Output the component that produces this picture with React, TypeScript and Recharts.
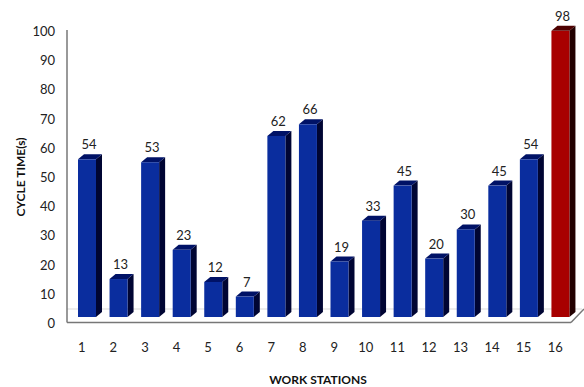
import React from 'react';
import { BarChart, Bar, XAxis, YAxis, Cell, LabelList, Customized } from 'recharts';

// values
const stations = ['1', '2', '3', '4', '5', '6', '7', '8', '9', '10', '11', '12', '13', '14', '15', '16'];
const cycleTimes = [54, 13, 53, 23, 12, 7, 62, 66, 19, 33, 45, 20, 30, 45, 54, 98];
const yTicks = [0, 10, 20, 30, 40, 50, 60, 70, 80, 90, 100];

const data = stations.map((s, i) => ({ station: s, time: cycleTimes[i] }));

const blue = { front: '#0a2d9e', side: '#000533', top: '#001266' };
const red = { front: '#a80000', side: '#220000', top: '#4d0000' };

const DEPTH_X = 6;
const DEPTH_Y = 5;
const FONT = 'Lato, "Open Sans", sans-serif';

const Bar3D = (props: any) => {
  const { x, y, width, height, payload } = props;
  const c = payload.station === '16' ? red : blue;
  return (
    <g>
      <polygon
        points={`${x + width},${y} ${x + width + DEPTH_X},${y - DEPTH_Y} ${x + width + DEPTH_X},${y + height - DEPTH_Y} ${x + width},${y + height}`}
        fill={c.side}
      />
      <polygon
        points={`${x},${y} ${x + DEPTH_X},${y - DEPTH_Y} ${x + width + DEPTH_X},${y - DEPTH_Y} ${x + width},${y}`}
        fill={c.top}
      />
      <rect x={x} y={y} width={width} height={height} fill={c.front} />
    </g>
  );
};

const ValueLabel = (props: any) => {
  const { x, y, width, value } = props;
  return (
    <text x={x + width / 2 + 2} y={y - DEPTH_Y - 5} textAnchor="middle" fontSize={13} fill="#222" fontFamily={FONT}>
      {value}
    </text>
  );
};

const XTick = (props: any) => {
  const { x, payload } = props;
  return (
    <text x={x - 5} y={347} textAnchor="middle" dominantBaseline="central" fontSize={13} fill="#222" fontFamily={FONT}>
      {payload.value}
    </text>
  );
};

const YTick = (props: any) => {
  const { x, y, payload } = props;
  return (
    <text x={55} y={y + 6} textAnchor="end" dominantBaseline="central" fontSize={13} fill="#222" fontFamily={FONT}>
      {payload.value}
    </text>
  );
};

// floor and back wall of the 3D frame
const Frame = () => (
  <g>
    <line x1={67} y1={309} x2={582} y2={309} stroke="#e6e6e6" strokeWidth={1.5} />
    <line x1={67} y1={30} x2={67} y2={322.5} stroke="#777" strokeWidth={1.5} />
    <line x1={67} y1={322.5} x2={571} y2={322.5} stroke="#777" strokeWidth={1.5} />
    <line x1={571} y1={322.5} x2={584} y2={309} stroke="#777" strokeWidth={1.5} />
  </g>
);

export default function App() {
  return (
    <div style={{ position: 'absolute', left: 0, top: 0, background: '#fff' }}>
      <BarChart
        width={584}
        height={387}
        data={data}
        margin={{ top: 25, right: 8, bottom: 0, left: 0 }}
        barCategoryGap={14}
      >
        <Customized component={Frame} />
        <XAxis
          dataKey="station"
          axisLine={false}
          tickLine={false}
          height={70}
          tick={<XTick />}
          interval={0}
        />
        <YAxis
          domain={[0, 100]}
          ticks={yTicks}
          width={71}
          axisLine={false}
          tickLine={false}
          tick={<YTick />}
          interval={0}
        />
        <Bar dataKey="time" barSize={18} shape={<Bar3D />} isAnimationActive={false}>
          {data.map((d) => (
            <Cell key={d.station} />
          ))}
          <LabelList dataKey="time" content={<ValueLabel />} />
        </Bar>
      </BarChart>
      <div
        style={{
          position: 'absolute',
          left: 20,
          top: 177,
          transform: 'translate(-50%, -50%) rotate(-90deg)',
          whiteSpace: 'nowrap',
          fontFamily: FONT,
          fontWeight: 'bold',
          fontSize: 12,
          color: '#111',
        }}
      >
        CYCLE TIME(s)
      </div>
      <div
        style={{
          position: 'absolute',
          left: 318,
          top: 379,
          transform: 'translate(-50%, -50%)',
          whiteSpace: 'nowrap',
          fontFamily: FONT,
          fontWeight: 'bold',
          fontSize: 12,
          color: '#111',
        }}
      >
        WORK STATIONS
      </div>
    </div>
  );
}
